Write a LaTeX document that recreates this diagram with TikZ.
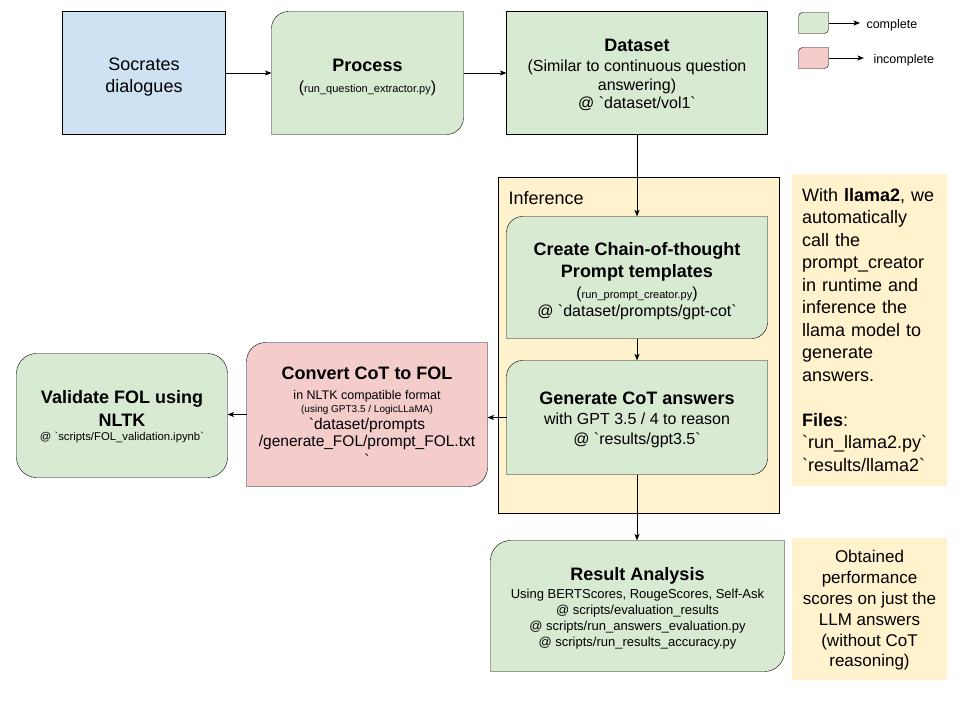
\documentclass[tikz,border=0pt]{standalone}
\usepackage{fontspec}
\setmainfont{Liberation Sans}
\usetikzlibrary{arrows.meta,calc,backgrounds}
\definecolor{cgreen}{HTML}{D9EAD3}
\definecolor{cblue}{HTML}{CFE2F3}
\definecolor{cpink}{HTML}{F4CCCC}
\definecolor{cyellow}{HTML}{FFF2CC}
\newcommand\bq{\textasciigrave}
\newcommand\fs[2]{\fontsize{#1}{#2}\selectfont}
\newcommand\diagshape[3]{%
  \draw[fill=#3] ($(#1.north west)+(#2,0)$) -- (#1.north east) -- ($(#1.south east)+(0,-#2)$)
   .. controls +(0,0.552*#2) and +(0.552*#2,0) .. ($(#1.south east)+(-#2,0)$)
   -- (#1.south west) -- ($(#1.north west)+(0,#2)$)
   .. controls +(0,-0.552*#2) and +(-0.552*#2,0) .. ($(#1.north west)+(#2,0)$) -- cycle;}
\begin{document}
\begin{tikzpicture}[x=1pt,y=-1pt,line width=1pt,
  boxnode/.style={draw=none,inner sep=0pt,anchor=center},
  txt/.style={draw=none,inner sep=0pt,align=center,anchor=center},
  arr/.style={-{Stealth[length=6.5pt,width=5pt,inset=1.5pt]},line width=1pt}]
\useasboundingbox (0,0) rectangle (960,720);

% box nodes (shapes)
\node[boxnode,minimum width=162pt,minimum height=122pt] (soc) at (144,73) {};
\node[boxnode,minimum width=191pt,minimum height=122pt] (proc) at (367.5,73) {};
\node[boxnode,minimum width=260pt,minimum height=122pt] (data) at (637,73) {};
\node[boxnode,minimum width=280pt,minimum height=335pt] (inf) at (639,345.5) {};
\node[boxnode,minimum width=260pt,minimum height=121pt] (cot) at (637,277.5) {};
\node[boxnode,minimum width=260pt,minimum height=113pt] (gen) at (637,417.5) {};
\node[boxnode,minimum width=240pt,minimum height=143pt] (conv) at (367,414.5) {};
\node[boxnode,minimum width=210pt,minimum height=123pt] (val) at (122,415.5) {};
\node[boxnode,minimum width=293pt,minimum height=130pt] (res) at (637.5,606) {};
\node[boxnode,minimum width=29pt,minimum height=20pt] (lg1) at (813.5,23) {};
\node[boxnode,minimum width=29pt,minimum height=20pt] (lg2) at (813.5,58) {};
\node[boxnode,fill=cyellow,minimum width=155pt,minimum height=142pt] (note2) at (869.5,609) {};

% texts
\node[txt,font=\fs{18}{21.5}] (soct) at (144,77) {Socrates\\dialogues};
\node[txt,font=\fs{16}{21}] (proct) at (367.5,77)
 {{\fs{18}{22}\bfseries Process}\\({\fs{11}{21}run\_question\_extractor.py})};
\node[txt,font=\fs{16}{18.5}] (datat) at (637,75)
 {{\fs{18}{20}\bfseries Dataset}\\[2pt](Similar to continuous question\\answering)\\@ \bq dataset/vol1\bq};
\node[anchor=west,inner sep=0pt,font=\fs{18}{22}] (inflabel) at (508,198) {Inference};
\node[txt,font=\fs{16}{21}] (cott) at (637,281.5)
 {{\fs{18}{22}\bfseries Create Chain-of-thought}\\[1pt]{\fs{18}{22}\bfseries Prompt templates}\\({\fs{11}{21}run\_prompt\_creator.py})\\[-3pt]@ \bq dataset/prompts/gpt-cot\bq};
\node[txt,font=\fs{16}{19.5}] (gent) at (637,420)
 {{\fs{18}{22}\bfseries Generate CoT answers}\\[0.5pt]with GPT 3.5 / 4 to reason\\@ \bq results/gpt3.5\bq};
\node[txt,font=\fs{15.5}{17}] (convt) at (367,416)
 {{\fs{18}{22}\bfseries Convert CoT to FOL}\\[3pt]{\fs{12.5}{15}in NLTK compatible format}\\[-4pt]{\fs{10}{13}(using GPT3.5 / LogicLLaMA)}\\\bq dataset/prompts\\/generate\_FOL/prompt\_FOL.txt\\[2pt]\bq};
\node[txt,font=\fs{18}{22.5}] (valt) at (122,417)
 {\bfseries Validate FOL using\\\bfseries NLTK\\[-8pt]{\fs{11.3}{14}@ \bq scripts/FOL\_validation.ipynb\bq}};
\node[txt,font=\fs{13}{16}] (rest) at (637.5,608.5)
 {{\fs{18}{22}\bfseries Result Analysis}\\[2pt]Using BERTScores, RougeScores, Self-Ask\\@ scripts/evaluation\_results\\@ scripts/run\_answers\_evaluation.py\\@ scripts/run\_results\_accuracy.py};

\node[txt,fill=cyellow,font=\fs{18}{22.5},align=left,text width=135pt,inner xsep=10pt,minimum height=312pt] (note1) at (869.5,330)
 {With \textbf{llama2}, we\\automatically\\call the\\prompt\_creator\\in runtime and\\inference the\\llama model to\\generate\\answers.\\[22.5pt]\textbf{Files}:\\\bq run\_llama2.py\bq\\\bq results/llama2\bq};
\node[txt,font=\fs{17}{20.8}] (note2t) at (869.5,610.5)
 {Obtained\\performance\\scores on just the\\LLM answers\\(without CoT\\reasoning)};

% legend
\coordinate (lg1end) at (860,23);
\coordinate (lg2end) at (864,58);
\node[anchor=west,inner sep=0pt,font=\fs{12.5}{15}] (lg1t) at (866,25) {complete};
\node[anchor=west,inner sep=0pt,font=\fs{12.5}{15}] (lg2t) at (873,60) {incomplete};

% shapes on background
\begin{pgfonlayer}{background}
\draw[fill=cyellow] (inf.north west) rectangle (inf.south east);
\draw[fill=cblue] (soc.north west) rectangle (soc.south east);
\diagshape{proc}{17}{cgreen}
\draw[fill=cgreen] (data.north west) rectangle (data.south east);
\diagshape{cot}{16}{cgreen}
\diagshape{gen}{16}{cgreen}
\diagshape{conv}{19}{cpink}
\draw[fill=cgreen,rounded corners=20pt] (val.north west) rectangle (val.south east);
\diagshape{res}{20}{cgreen}
\diagshape{lg1}{4}{cgreen}
\diagshape{lg2}{4}{cpink}
\end{pgfonlayer}

% connectors
\draw[arr] (soc.east) -- (proc.west);
\draw[arr] (proc.east) -- (data.west);
\draw[arr] (data.south) -- (cot.north);
\draw[arr] (cot.south) -- (gen.north);
\draw[arr] (gen.south) -- (gen.south |- res.north);
\draw[arr] (gen.west) -- (gen.west -| conv.east);
\draw[arr] (conv.west) -- (conv.west -| val.east);
\draw[arr] (lg1.east) -- (lg1end);
\draw[arr] (lg2.east) -- (lg2end);
\end{tikzpicture}
\end{document}
